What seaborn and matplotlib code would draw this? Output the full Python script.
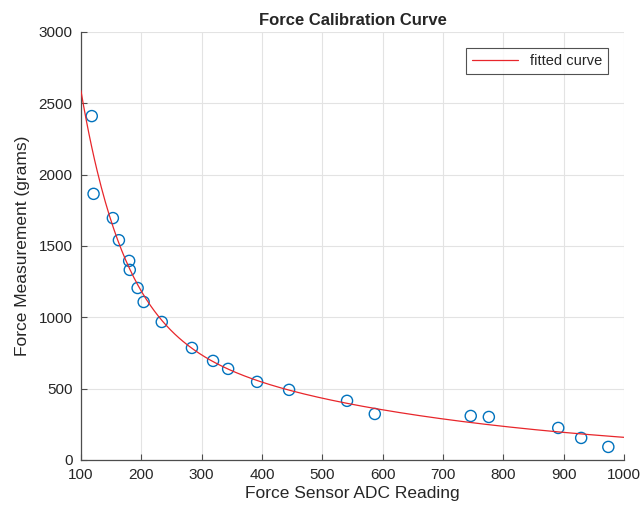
import numpy as np
import pandas as pd
import matplotlib
matplotlib.use("Agg")
import matplotlib.pyplot as plt
import seaborn as sns

# calibration points
adc = [118, 121, 153, 163, 180, 181, 194, 204, 234, 284, 319, 344, 392, 445,
       541, 587, 746, 776, 891, 929, 974]
force = [2410, 1865, 1695, 1540, 1395, 1332, 1205, 1107, 967, 785, 694, 638,
         547, 491, 414, 322, 308, 301, 224, 154, 91]

data = pd.DataFrame({"adc": adc, "force": force})

# fit y = a*exp(b*x) + c*exp(d*x) by grid over the rates + linear least squares
x = data["adc"].to_numpy(float)
y = data["force"].to_numpy(float)
best = None
for b in np.linspace(-0.04, -0.003, 120):
    for d in np.linspace(-0.003, 0.0, 60):
        A = np.column_stack([np.exp(b * x), np.exp(d * x)])
        coef, *_ = np.linalg.lstsq(A, y, rcond=None)
        err = np.sum((A @ coef - y) ** 2)
        if best is None or err < best[0]:
            best = (err, b, d, coef)
_, b, d, coef = best
xs = np.linspace(100, 1000, 400)
fit = pd.DataFrame({"adc": xs, "force": coef[0] * np.exp(b * xs) + coef[1] * np.exp(d * xs)})

sns.set_style("whitegrid")
plt.rcParams['font.family'] = ['Liberation Sans', 'DejaVu Sans']

fig = plt.figure(figsize=(6.42, 5.15), dpi=100)
ax = fig.add_axes([0.126, 0.107, 0.846, 0.831])

sns.scatterplot(data=data, x="adc", y="force", ax=ax, marker="o", s=64,
                facecolor="none", edgecolor=(0, 0.447, 0.741), linewidth=1.0,
                zorder=3)
sns.lineplot(data=fit, x="adc", y="force", ax=ax, color="#e8262b", linewidth=0.9,
             label="fitted curve", zorder=4)

ax.set_xlim(100, 1000)
ax.set_ylim(0, 3000)
ax.set_xticks(range(100, 1001, 100))
ax.set_yticks(range(0, 3001, 500))
ax.grid(True, color="#e3e3e3", linewidth=0.8)
for s in ["top", "right"]:
    ax.spines[s].set_visible(False)
for s in ["left", "bottom"]:
    ax.spines[s].set_color("#4d4d4d")
    ax.spines[s].set_linewidth(0.9)
ax.tick_params(direction="in", length=4, width=0.8, color="#4d4d4d",
               labelsize=11, labelcolor="#262626", left=True, bottom=True)
ax.tick_params(axis="x", pad=6)
ax.tick_params(axis="y", pad=6)

ax.set_xlabel("Force Sensor ADC Reading", fontsize=12.5, color="#262626", labelpad=3)
ax.set_ylabel("Force Measurement (grams)", fontsize=12.5, color="#262626", labelpad=6)
ax.set_title("Force Calibration Curve", fontsize=12, fontweight="bold", pad=5)

leg = ax.legend(loc="upper right", fontsize=10.5, frameon=True, fancybox=False,
                handlelength=3.2, borderaxespad=1.1)
leg.get_frame().set_edgecolor("#262626")
leg.get_frame().set_linewidth(0.8)

fig.savefig("out.png", dpi=100)
